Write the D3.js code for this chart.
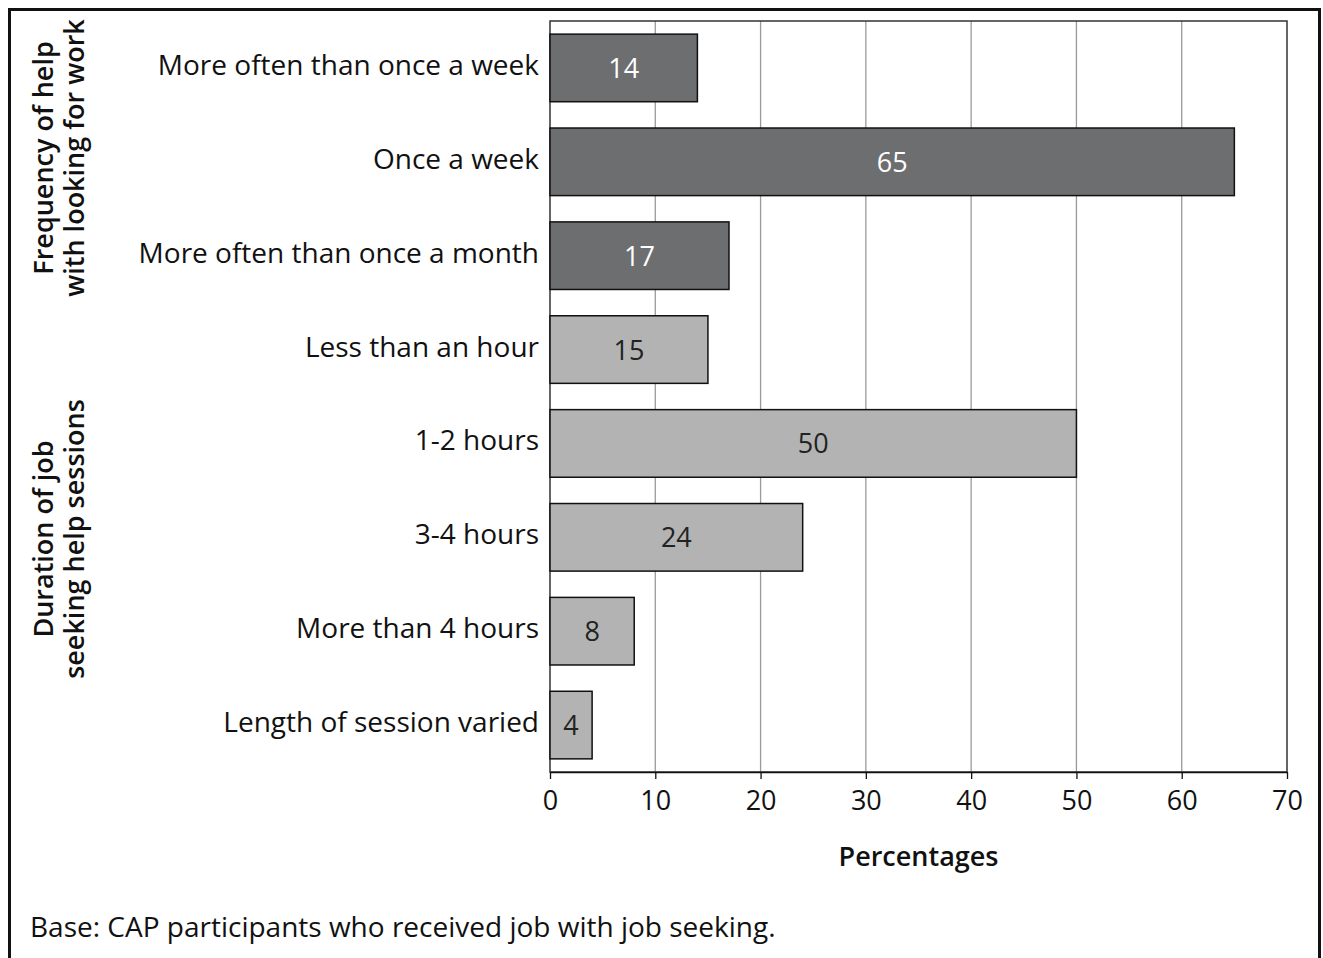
<!DOCTYPE html>
<html><head><meta charset="utf-8">
<script src="https://cdn.jsdelivr.net/npm/d3@7"></script>
<style>body{margin:0;background:#fff}svg{display:block}text{font-family:"Open Sans","Noto Sans",sans-serif}</style>
</head><body>
<script>
const categories = ["More often than once a week","Once a week","More often than once a month","Less than an hour","1-2 hours","3-4 hours","More than 4 hours","Length of session varied"];
const values = [14,65,17,15,50,24,8,4];
const groups = ["freq","freq","freq","dur","dur","dur","dur","dur"];
const groupTitles = [["Frequency of help","with looking for work"],["Duration of job","seeking help sessions"]];
const xTicks = [0,10,20,30,40,50,60,70];
const xTitle = "Percentages";
const footnote = "Base: CAP participants who received job with job seeking.";

const W=1323,H=958;
const svg=d3.select("body").append("svg").attr("width",W).attr("height",H);
svg.append("rect").attr("x",9.5).attr("y",9.5).attr("width",1310).attr("height",960).attr("fill","none").attr("stroke","#111").attr("stroke-width",3);

const L=550,R=1287,T=21,B=772;
const x=d3.scaleLinear().domain([0,70]).range([L,R]);
const y=d3.scaleBand().domain(categories).range([T,B]).paddingInner(0.28).paddingOuter(0.14);

// grid
svg.append("g").selectAll("line").data(xTicks.filter(d=>d>0&&d<70)).join("line")
 .attr("x1",d=>x(d)).attr("x2",d=>x(d)).attr("y1",T).attr("y2",B).attr("stroke","#9a9a9a").attr("stroke-width",1.3);
svg.append("rect").attr("x",L).attr("y",T).attr("width",R-L).attr("height",B-T).attr("fill","none").attr("stroke","#333").attr("stroke-width",1.5);

const col={freq:"#6d6e70",dur:"#b3b3b3"};
svg.append("g").selectAll("rect").data(categories).join("rect")
 .attr("x",x(0)).attr("y",d=>y(d)).attr("width",(d,i)=>x(values[i])-x(0)).attr("height",y.bandwidth())
 .attr("fill",(d,i)=>col[groups[i]]).attr("stroke","#111").attr("stroke-width",1.5);

svg.append("g").selectAll("text").data(categories).join("text")
 .attr("x",(d,i)=>(x(values[i])+x(0))/2).attr("y",d=>y(d)+y.bandwidth()/2+10)
 .attr("text-anchor","middle").attr("font-size",27)
 .attr("fill",(d,i)=>groups[i]==="freq"?"#fff":"#222").text((d,i)=>values[i]);

// category labels
svg.append("g").selectAll("text").data(categories).join("text")
 .attr("x",L-11).attr("y",d=>y(d)+y.bandwidth()/2+7).attr("text-anchor","end").attr("font-size",28).attr("fill","#111").text(d=>d);

// x axis
const ax=svg.append("g").attr("transform",`translate(0,${B})`).call(d3.axisBottom(x).tickValues(xTicks).tickSize(7).tickSizeOuter(0));
ax.select(".domain").attr("stroke","#111").attr("stroke-width",1.5);
ax.selectAll(".tick line").attr("stroke","#111").attr("stroke-width",1.3);
ax.selectAll(".tick text").attr("font-size",27).attr("fill","#111").attr("dy","1.05em").attr("font-family","'Open Sans',sans-serif");

svg.append("text").attr("x",(L+R)/2).attr("y",866).attr("text-anchor","middle").attr("font-size",27).attr("font-weight",600).attr("fill","#111").text(xTitle);
svg.append("text").attr("x",30).attr("y",937).attr("font-size",28).attr("fill","#111").text(footnote);

// group titles
const gc=[158,539];
groupTitles.forEach((lines,gi)=>{
  lines.forEach((t,li)=>{
    svg.append("text").attr("transform",`translate(${53+li*31},${gc[gi]}) rotate(-90)`).attr("text-anchor","middle")
     .attr("font-size",27).attr("font-weight",600).attr("fill","#111").text(t);
  });
});
</script>
</body></html>
